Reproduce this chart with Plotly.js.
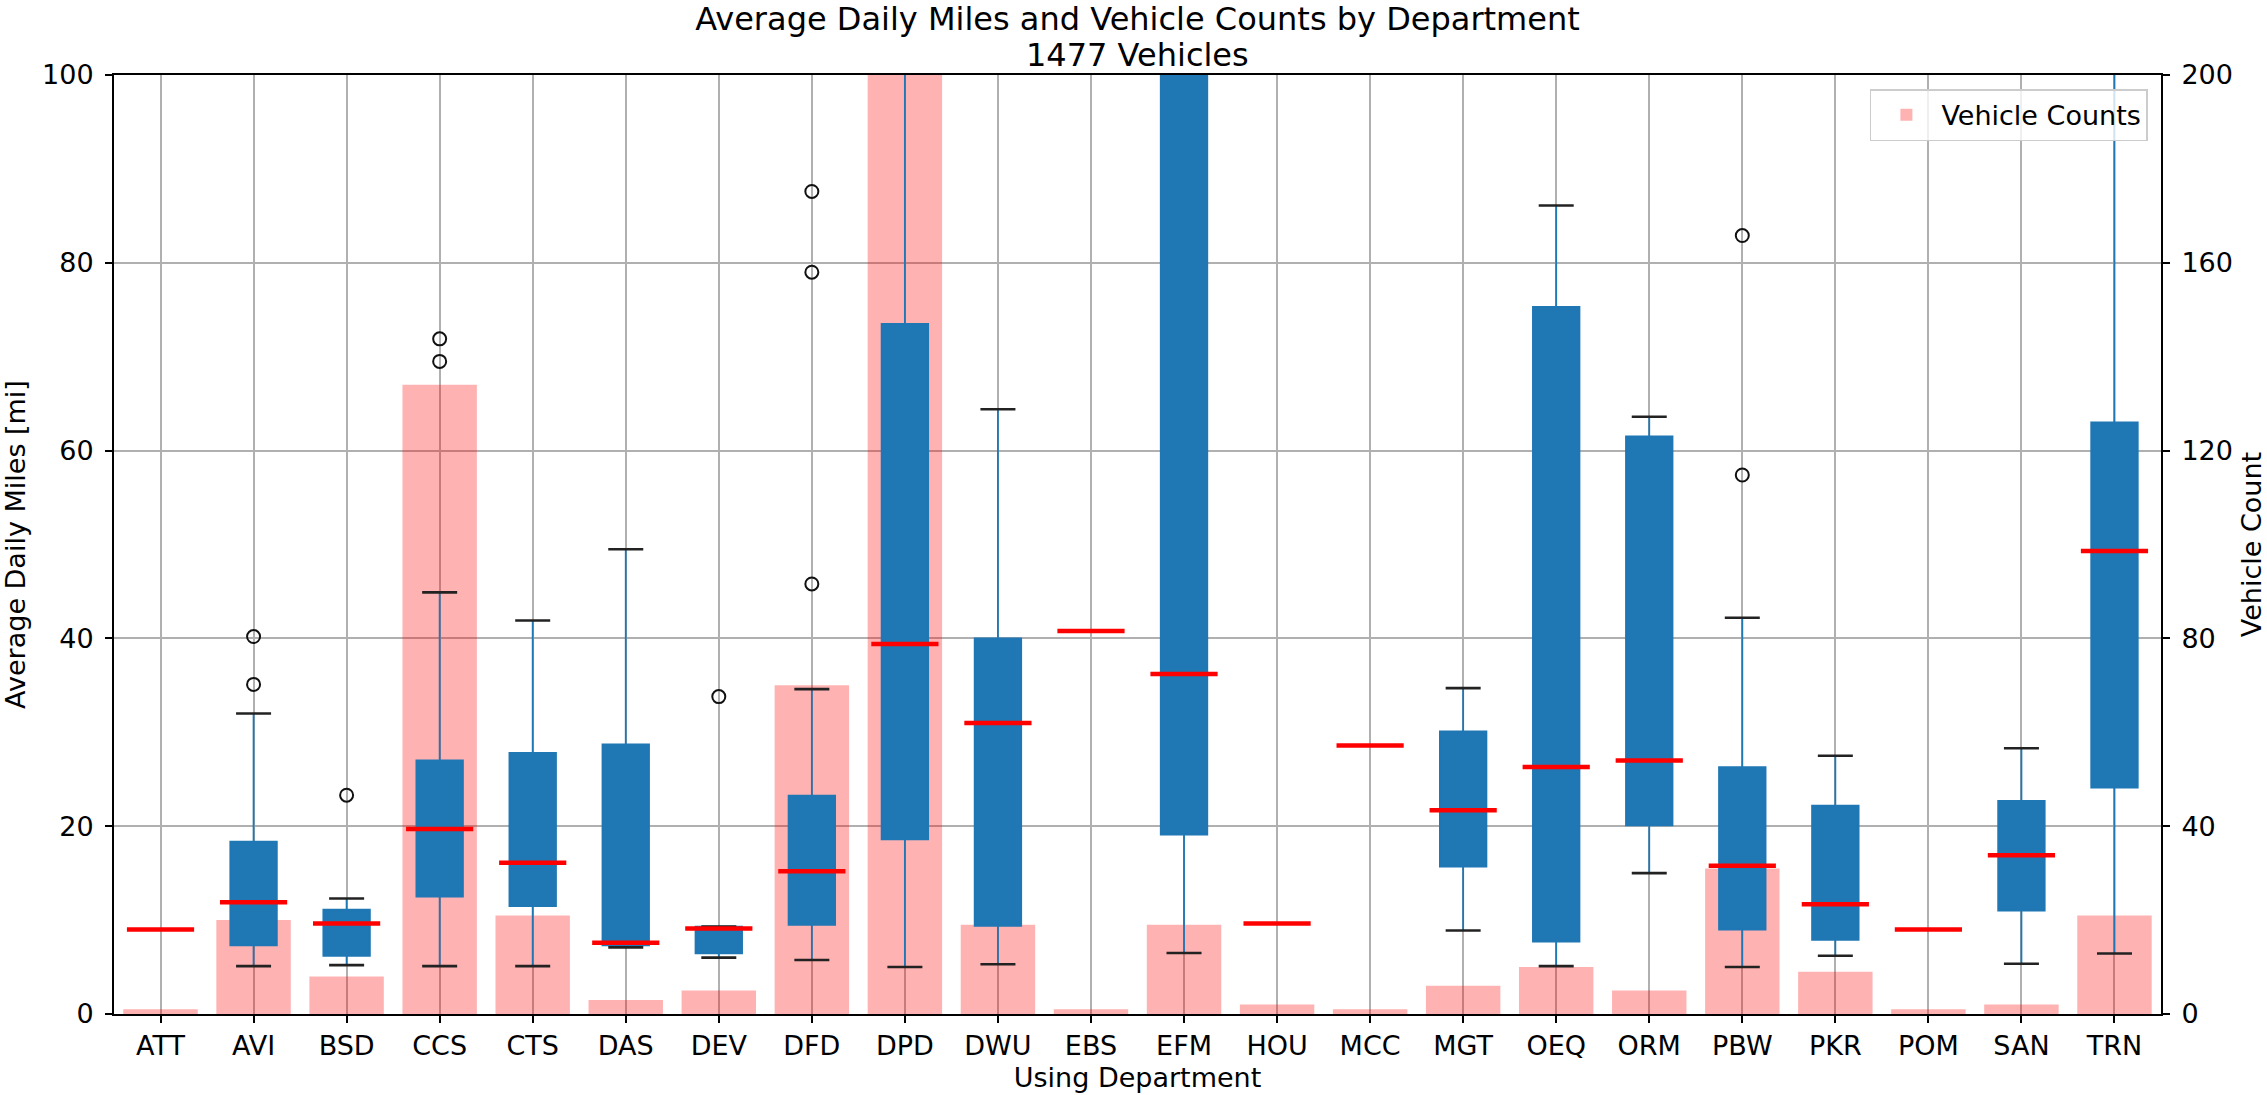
<!DOCTYPE html>
<html>
<head>
<meta charset="utf-8">
<script src="https://cdn.plot.ly/plotly-3.0.1.min.js"></script>
<style>
  html, body { margin: 0; padding: 0; background: #ffffff; }
  #chart { width: 2267px; height: 1095px; }
</style>
</head>
<body>
<div id="chart"></div>
<script>
// ---- Data ----
const departments = ["ATT","AVI","BSD","CCS","CTS","DAS","DEV","DFD","DPD","DWU","EBS",
                     "EFM","HOU","MCC","MGT","OEQ","ORM","PBW","PKR","POM","SAN","TRN"];

// Vehicle counts per department (right axis)
const vehicleCounts = [1, 20, 8, 134, 21, 3, 5, 70, 1088, 19, 1,
                       19, 2, 1, 6, 10, 5, 31, 9, 1, 2, 21];

// Box statistics of average daily miles (left axis)
const lowerWhisker = [9.0, 5.1, 5.2, 5.1, 5.1, 7.1, 6.0, 5.75, 5.0, 5.3, 40.8,
                      6.5, 9.65, 28.6, 8.9, 5.1, 15.0, 5.0, 6.2, 9.0, 5.35, 6.45];
const q1Miles      = [9.0, 7.3, 6.2, 12.5, 11.5, 7.3, 6.45, 9.5, 18.6, 9.4, 40.8,
                      19.1, 9.65, 28.6, 15.7, 7.7, 20.1, 9.0, 7.9, 9.0, 11.0, 24.1];
const medianMiles  = [9.0, 11.9, 9.65, 19.7, 16.1, 7.6, 9.1, 15.2, 39.4, 31.0, 40.8,
                      36.2, 9.65, 28.6, 21.7, 26.3, 27.0, 15.8, 11.7, 9.0, 16.9, 49.3];
const q3Miles      = [9.0, 18.35, 11.1, 27.0, 27.8, 28.7, 9.3, 23.25, 73.5, 40.0, 40.8,
                      112.0, 9.65, 28.6, 30.1, 75.3, 61.5, 26.3, 22.2, 9.0, 22.7, 63.0];
const upperWhisker = [9.0, 32.0, 12.3, 44.9, 41.9, 49.5, 9.3, 34.6, 155.0, 64.4, 40.8,
                      190.0, 9.65, 28.6, 34.7, 86.1, 63.6, 42.2, 27.5, 9.0, 28.3, 115.0];

// Outliers (fliers)
const outlierDept  = ["AVI","AVI","BSD","CCS","CCS","DEV","DFD","DFD","DFD","PBW","PBW"];
const outlierMiles = [40.2, 35.1, 23.3, 71.9, 69.5, 33.8, 87.6, 79.0, 45.8, 82.9, 57.4];

const totalVehicles = vehicleCounts.reduce((a, b) => a + b, 0);

// ---- Styling ----
const FONT = "DejaVu Sans, Liberation Sans, sans-serif";
const BLUE = "#1f77b4";
const GRID = "#b0b0b0";

const barTrace = {
  type: "bar",
  name: "Vehicle Counts",
  x: departments,
  y: vehicleCounts,
  width: 0.8,
  marker: { color: "rgba(255,0,0,0.3)", line: { width: 0 } },
  xaxis: "x", yaxis: "y",
  showlegend: true,
  hoverinfo: "x+y"
};

const boxTrace = {
  type: "box",
  name: "miles",
  x: departments,
  q1: q1Miles,
  median: medianMiles,
  q3: q3Miles,
  lowerfence: lowerWhisker,
  upperfence: upperWhisker,
  boxpoints: false,
  width: 0.5,
  whiskerwidth: 0,
  fillcolor: BLUE,
  line: { color: BLUE, width: 1.8 },
  xaxis: "x", yaxis: "y2",
  showlegend: false
};

const capsTrace = {
  type: "scatter", mode: "markers",
  x: departments.concat(departments),
  y: lowerWhisker.concat(upperWhisker),
  marker: { symbol: "line-ew", size: 25, color: "#222", line: { color: "#222", width: 2.6 } },
  xaxis: "x", yaxis: "y2", showlegend: false, hoverinfo: "skip"
};

const mediansTrace = {
  type: "scatter", mode: "markers",
  x: departments,
  y: medianMiles,
  marker: { symbol: "line-ew", size: 48, color: "red", line: { color: "red", width: 4.5 } },
  xaxis: "x", yaxis: "y2", showlegend: false, hoverinfo: "x+y"
};

const outlierTrace = {
  type: "scatter", mode: "markers",
  x: outlierDept,
  y: outlierMiles,
  marker: { symbol: "circle-open", size: 13, color: "#111", line: { color: "#111", width: 2 } },
  xaxis: "x", yaxis: "y2", showlegend: false, hoverinfo: "x+y"
};

const layout = {
  width: 2267, height: 1095,
  paper_bgcolor: "#ffffff", plot_bgcolor: "#ffffff",
  font: { family: FONT, size: 27, color: "#000" },
  margin: { l: 114, r: 106, t: 75, b: 81, pad: 0 },
  title: {
    text: "Average Daily Miles and Vehicle Counts by Department",
    font: { family: FONT, size: 32, color: "#000" },
    x: 0.5, xref: "paper", xanchor: "center",
    y: 1 - 19 / 1095, yref: "container", yanchor: "middle"
  },
  annotations: [{
    text: totalVehicles + " Vehicles",
    font: { family: FONT, size: 32, color: "#000" },
    xref: "paper", yref: "paper",
    x: 0.5, xanchor: "center",
    y: 1.0215, yanchor: "middle",
    showarrow: false
  }],
  bargap: 0.2,
  xaxis: {
    type: "category",
    categoryorder: "array", categoryarray: departments,
    range: [-0.5, departments.length - 0.5],
    showgrid: true, gridcolor: GRID, gridwidth: 2,
    showline: true, linecolor: "#000", linewidth: 2, mirror: true,
    ticks: "outside", ticklen: 7, tickwidth: 2, tickcolor: "#000",
    ticklabelstandoff: 0,
    tickfont: { family: FONT, size: 27 },
    title: { text: "Using Department", font: { family: FONT, size: 27 }, standoff: 8 },
    automargin: false
  },
  yaxis: {
    side: "right",
    range: [0, 200], tick0: 0, dtick: 40,
    showgrid: true, gridcolor: GRID, gridwidth: 2,
    zeroline: false,
    showline: true, linecolor: "#000", linewidth: 2,
    ticks: "outside", ticklen: 7, tickwidth: 2, tickcolor: "#000",
    ticklabelstandoff: 6,
    tickfont: { family: FONT, size: 27 },
    title: { text: "Vehicle Count", font: { family: FONT, size: 27 }, standoff: 14 },
    automargin: false
  },
  yaxis2: {
    overlaying: "y", side: "left",
    range: [0, 100], tick0: 0, dtick: 20,
    showgrid: false, zeroline: false,
    showline: true, linecolor: "#000", linewidth: 2,
    ticks: "outside", ticklen: 7, tickwidth: 2, tickcolor: "#000",
    ticklabelstandoff: 6,
    tickfont: { family: FONT, size: 27 },
    title: { text: "Average Daily Miles [mi]", font: { family: FONT, size: 27 }, standoff: 20 },
    automargin: false
  },
  legend: {
    x: 0.9936, xanchor: "right", xref: "paper",
    y: 0.985, yanchor: "top", yref: "paper",
    bgcolor: "rgba(255,255,255,0.8)",
    bordercolor: "#cccccc", borderwidth: 1.5,
    itemwidth: 60,
    font: { family: FONT, size: 27, color: "#000" }
  },
  showlegend: true
};

Plotly.newPlot("chart", [barTrace, boxTrace, capsTrace, mediansTrace, outlierTrace], layout,
  { displayModeBar: false, staticPlot: true });
</script>
</body>
</html>
